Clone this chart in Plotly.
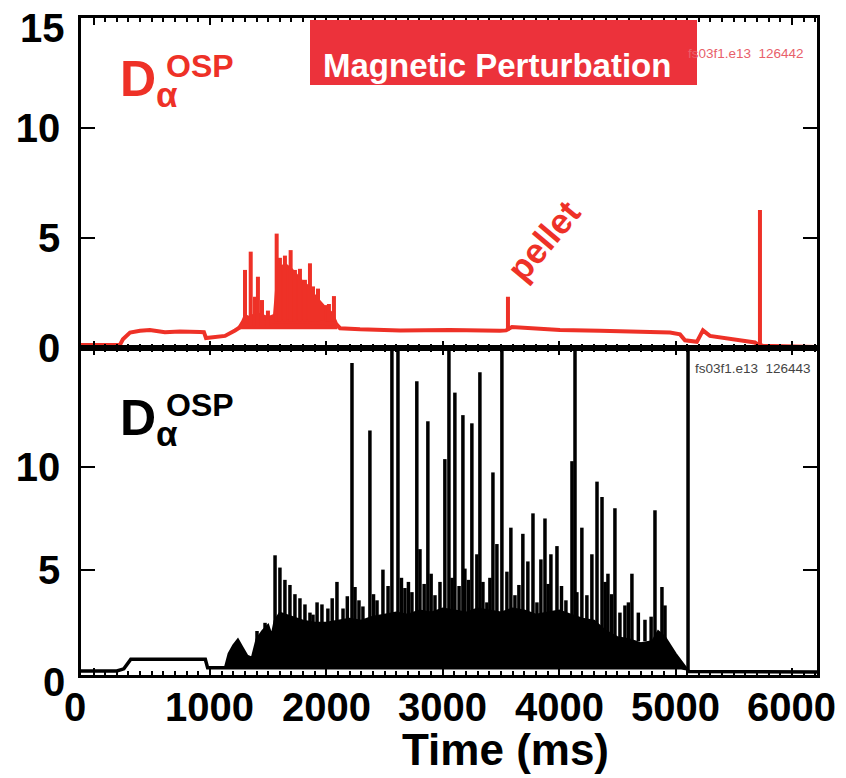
import plotly.graph_objects as go
from plotly.subplots import make_subplots

# ---------------- shot 126442 (with magnetic perturbation), red ----------------
red_base_t = [-108, 226, 252, 313, 399, 484, 613, 742, 914, 948, 966, 1043, 1129, 1215, 1275,
              1400, 1550, 1800, 2082, 2117, 2289, 2633, 3062, 3491, 3543, 3594, 3749, 4007,
              4351, 4694, 4952, 5038, 5081, 5183, 5218, 5235, 5295, 5467, 5682, 5708, 5750, 6215]
red_base_v = [0.14, 0.14, 0.4, 0.7, 0.78, 0.82, 0.72, 0.75, 0.73, 0.72, 0.45, 0.48, 0.55, 0.8, 1.0,
              1.1, 1.2, 1.2, 1.1, 0.9, 0.85, 0.8, 0.82, 0.78, 0.8, 0.95, 0.9, 0.82,
              0.78, 0.74, 0.7, 0.62, 0.35, 0.28, 0.7, 0.8, 0.55, 0.4, 0.25, 0.15, 0.1, 0.05]

# solid ELM cluster (upper envelope)
red_band_t = [1240, 1275, 1300, 1340, 1400, 1450, 1500, 1550, 1570, 1600, 1650, 1700, 1750,
              1800, 1850, 1900, 1950, 2000, 2050, 2085]
red_band_top = [0.9, 1.2, 1.5, 1.4, 1.6, 1.5, 1.4, 1.5, 2.8, 3.7, 3.8, 3.6, 3.3,
                3.0, 2.8, 2.4, 2.1, 1.8, 1.6, 1.2]

# individual spikes: time, peak, level they rise from
red_spike_t = [1301, 1350, 1387, 1412, 1447, 1498, 1573, 1601, 1644, 1693, 1730, 1773,
               1816, 1859, 1885, 1928, 2002, 2022, 2065, 3560, 5725]
red_spike_v = [3.55, 4.38, 2.33, 3.24, 2.18, 1.7, 5.2, 4.1, 4.2, 4.45, 3.55, 3.6,
               3.1, 3.85, 2.8, 2.7, 1.95, 2.0, 2.36, 2.33, 6.27]
red_spike_base = [1.0, 1.0, 1.0, 1.0, 1.0, 1.0, 1.2, 1.2, 1.2, 1.2, 1.2, 1.2,
                  1.2, 1.2, 1.2, 1.2, 1.2, 1.2, 1.2, 0.8, 0.1]

# ---------------- shot 126443 (reference), black ----------------
blk_base_t = [-108, 200, 260, 300, 320, 960, 980, 1130, 5050, 5098, 5110, 6215]
blk_base_v = [0.05, 0.05, 0.15, 0.5, 0.62, 0.62, 0.2, 0.2, 0.2, 0.15, 0.02, 0.0]

blk_band_t = [1130, 1160, 1200, 1240, 1280, 1320, 1360, 1400, 1450, 1500, 1530, 1555, 1600,
              1700, 1800, 1900, 2000, 2100, 2200, 2300, 2400, 2500, 2600, 2700, 2800, 2900,
              3000, 3100, 3200, 3300, 3400, 3500, 3600, 3700, 3800, 3900, 4000, 4100, 4200,
              4300, 4400, 4500, 4600, 4700, 4800, 4850, 4910, 5000, 5098]
blk_band_top = [0.25, 0.9, 1.3, 1.6, 1.2, 0.8, 0.7, 1.6, 2.0, 2.3, 1.8, 2.5, 2.9,
                2.7, 2.5, 2.4, 2.4, 2.5, 2.6, 2.5, 2.7, 2.8, 2.9, 2.8, 3.0, 2.9,
                3.1, 3.0, 2.9, 3.1, 3.0, 2.9, 3.1, 3.0, 2.8, 2.9, 3.0, 2.8, 2.6,
                2.5, 2.0, 1.7, 1.6, 1.4, 1.5, 2.0, 1.7, 0.9, 0.15]

blk_spike_t = [1404, 1473, 1559, 1601, 1644, 1687, 1730, 1773, 1816, 1859, 1885, 1920, 1962,
               2013, 2050, 2091, 2143, 2180, 2220, 2246, 2280, 2314, 2374, 2405, 2435, 2486,
               2530, 2563, 2615, 2645, 2675, 2705, 2735, 2777, 2804, 2840, 2872, 2900, 2933,
               2976, 3018, 3053, 3080, 3104, 3140, 3173, 3190, 3220, 3250, 3293, 3319, 3345,
               3379, 3405, 3431, 3465, 3508, 3551, 3585, 3620, 3654, 3688, 3731, 3775, 3809,
               3843, 3878, 3905, 3929, 3981, 4020, 4058, 4110, 4152, 4195, 4238, 4281, 4325,
               4368, 4395, 4419, 4450, 4479, 4522, 4565, 4595, 4625, 4680, 4737, 4790, 4823,
               4883, 4909]
blk_spike_v = [2.0, 2.4, 5.7, 5.1, 4.5, 4.25, 3.8, 3.6, 3.3, 2.9, 2.8, 3.4, 3.3,
               3.1, 3.6, 4.4, 3.1, 3.7, 15.1, 4.15, 3.5, 3.2, 11.8, 3.8, 3.5, 5.0,
               4.2, 16.0, 16.0, 4.6, 4.1, 4.4, 3.9, 14.2, 6.0, 4.3, 12.25, 4.8, 3.75,
               4.4, 10.4, 16.0, 4.6, 13.65, 4.2, 12.55, 5.05, 4.5, 12.15, 5.75, 14.65, 4.4,
               3.4, 4.6, 9.75, 6.25, 16.0, 4.9, 7.05, 3.75, 4.25, 6.75, 5.4, 7.75, 3.4,
               5.5, 7.5, 4.3, 5.75, 6.15, 4.2, 3.5, 10.3, 3.9, 7.05, 3.75, 5.75, 9.3,
               8.55, 4.4, 4.8, 3.8, 8.0, 2.9, 3.25, 3.4, 4.8, 2.9, 2.55, 2.7, 7.9,
               4.15, 3.25]

# vertical trace at the end of the discharge and the tall spike riding on it
blk_end_t = [4136, 5107]
blk_end_v = [16.0, 16.0]
blk_end_base = [1.5, 0.0]

x_ticks = [0, 1000, 2000, 3000, 4000, 5000, 6000]
x_ticklabels = ["0", "1000", "2000", "3000", "4000", "5000", "6000"]
top_yticks = [0, 5, 10]
bot_yticks = [5, 10]

RED = "#ee3127"
BOX_RED = "#ec323b"
BLACK = "#000000"
FONT = "Liberation Sans, Arial, sans-serif"


def spikes(ts, vs, bases):
    xs, ys = [], []
    for t, v, b in zip(ts, vs, bases):
        xs += [t, t, None]
        ys += [b, v, None]
    return xs, ys


fig = make_subplots(rows=2, cols=1, shared_xaxes=False, vertical_spacing=0.0)

# top panel (red)
fig.add_trace(go.Scatter(
    x=red_band_t + [red_band_t[-1], red_band_t[0]],
    y=red_band_top + [0.9, 0.9],
    fill="toself", fillcolor=RED, line=dict(color=RED, width=2),
    mode="lines", hoverinfo="skip", showlegend=False), row=1, col=1)
fig.add_trace(go.Scatter(x=red_base_t, y=red_base_v, mode="lines",
                         line=dict(color=RED, width=4), showlegend=False), row=1, col=1)
sx, sy = spikes(red_spike_t, red_spike_v, red_spike_base)
fig.add_trace(go.Scatter(x=sx, y=sy, mode="lines", line=dict(color=RED, width=4),
                         showlegend=False), row=1, col=1)

# bottom panel (black)
fig.add_trace(go.Scatter(
    x=blk_band_t + [blk_band_t[-1], blk_band_t[0]],
    y=blk_band_top + [0.2, 0.2],
    fill="toself", fillcolor=BLACK, line=dict(color=BLACK, width=2),
    mode="lines", hoverinfo="skip", showlegend=False), row=2, col=1)
fig.add_trace(go.Scatter(x=blk_base_t, y=blk_base_v, mode="lines",
                         line=dict(color=BLACK, width=3.5), showlegend=False), row=2, col=1)
sx, sy = [], []
for t, v in zip(blk_spike_t, blk_spike_v):
    sx += [t, t, None]
    sy += [1.5, v, None]
fig.add_trace(go.Scatter(x=sx, y=sy, mode="lines", line=dict(color=BLACK, width=3.5),
                         showlegend=False), row=2, col=1)
sx, sy = spikes(blk_end_t, blk_end_v, blk_end_base)
fig.add_trace(go.Scatter(x=sx, y=sy, mode="lines", line=dict(color=BLACK, width=3.5),
                         showlegend=False), row=2, col=1)

tickfont = dict(family=FONT, size=40, color="black", weight="bold")
xcommon = dict(range=[-108, 6215], tickvals=x_ticks, showticklabels=False,
               ticks="inside", ticklen=7, tickwidth=2, tickcolor="black",
               minor=dict(dtick=100, ticks="inside", ticklen=4, tickwidth=1.5, tickcolor="black"),
               showline=True, linewidth=2.5, linecolor="black", mirror="ticks",
               showgrid=False, zeroline=False)
ycommon = dict(ticks="inside", ticklen=14, tickwidth=2, tickcolor="black",
               showline=True, linewidth=2.5, linecolor="black", mirror="ticks",
               showgrid=False, zeroline=False, tickfont=tickfont, ticklabelstandoff=10)

fig.update_xaxes(row=1, col=1, **xcommon)
fig.update_xaxes(row=2, col=1, **xcommon)
fig.update_yaxes(row=1, col=1, range=[0, 15.0], tickvals=top_yticks, **ycommon)
fig.update_yaxes(row=2, col=1, range=[-0.15, 15.83], tickvals=bot_yticks, **ycommon)

fig.update_layout(
    width=846, height=778, margin=dict(l=81, r=29, t=18, b=103),
    paper_bgcolor="white", plot_bgcolor="white", showlegend=False,
)
fig.layout.yaxis.domain = [0.4977, 1.0]
fig.layout.yaxis2.domain = [0.0, 0.4977]


def px(x):
    return (x - 81) / 736.0


def py(y):
    return (675 - y) / 657.0


fig.add_shape(type="rect", xref="paper", yref="paper",
              x0=px(310), x1=px(697), y0=py(85), y1=py(20),
              fillcolor=BOX_RED, line=dict(width=0), layer="above")

bold40 = dict(family=FONT, size=40, color="black", weight="bold")
ann = []
# time-axis tick labels (the zero label sits left of its tick)
for t, lab in zip(x_ticks, x_ticklabels):
    ann.append(dict(x=t, y=0, xref="x2", yref="paper", text=lab, showarrow=False,
                    xshift=-19 if t == 0 else 0, yshift=-8, yanchor="top", font=bold40))
# y tick labels placed slightly off their ticks
ann.append(dict(x=0, y=15, xref="paper", yref="y", text="15", showarrow=False,
                xanchor="right", xshift=-14, yshift=-10, font=bold40))
ann.append(dict(x=0, y=0, xref="paper", yref="y2", text="0", showarrow=False,
                xanchor="right", xshift=-14, yshift=-10, font=bold40))
# axis title
ann.append(dict(x=px(505), y=py(749), xref="paper", yref="paper", showarrow=False,
                xanchor="center", yanchor="middle",
                text="Time (ms)", font=dict(family=FONT, size=44, color="black", weight="bold")))
# panel labels
for col, yc in ((RED, 82), ("black", 421)):
    ann.append(dict(x=px(118), y=py(yc), xref="paper", yref="paper", xanchor="left",
                    yanchor="middle", showarrow=False, text="D<sub>α</sub>",
                    font=dict(family=FONT, size=50, color=col, weight="bold")))
    ann.append(dict(x=px(164), y=py(yc - 16), xref="paper", yref="paper", xanchor="left",
                    yanchor="middle", showarrow=False, text="OSP",
                    font=dict(family=FONT, size=32, color=col, weight="bold")))
ann.append(dict(x=px(497), y=py(45), xref="paper", yref="paper", showarrow=False,
                text="Magnetic Perturbation",
                font=dict(family=FONT, size=33, color="white", weight="bold")))
ann.append(dict(x=px(686), y=py(44), xref="paper", yref="paper", xanchor="left",
                showarrow=False, text="fs03f1.e13  126442",
                font=dict(family=FONT, size=13.5, color="#e8606a")))
ann.append(dict(x=px(693), y=py(368), xref="paper", yref="paper", xanchor="left",
                showarrow=False, text="fs03f1.e13  126443",
                font=dict(family=FONT, size=13.5, color="#444444")))
ann.append(dict(x=px(543), y=py(240), xref="paper", yref="paper", showarrow=False,
                text="pellet", textangle=-50,
                font=dict(family=FONT, size=35, color=RED, weight="bold")))
fig.update_layout(annotations=ann)

fig.write_html("out.html")
